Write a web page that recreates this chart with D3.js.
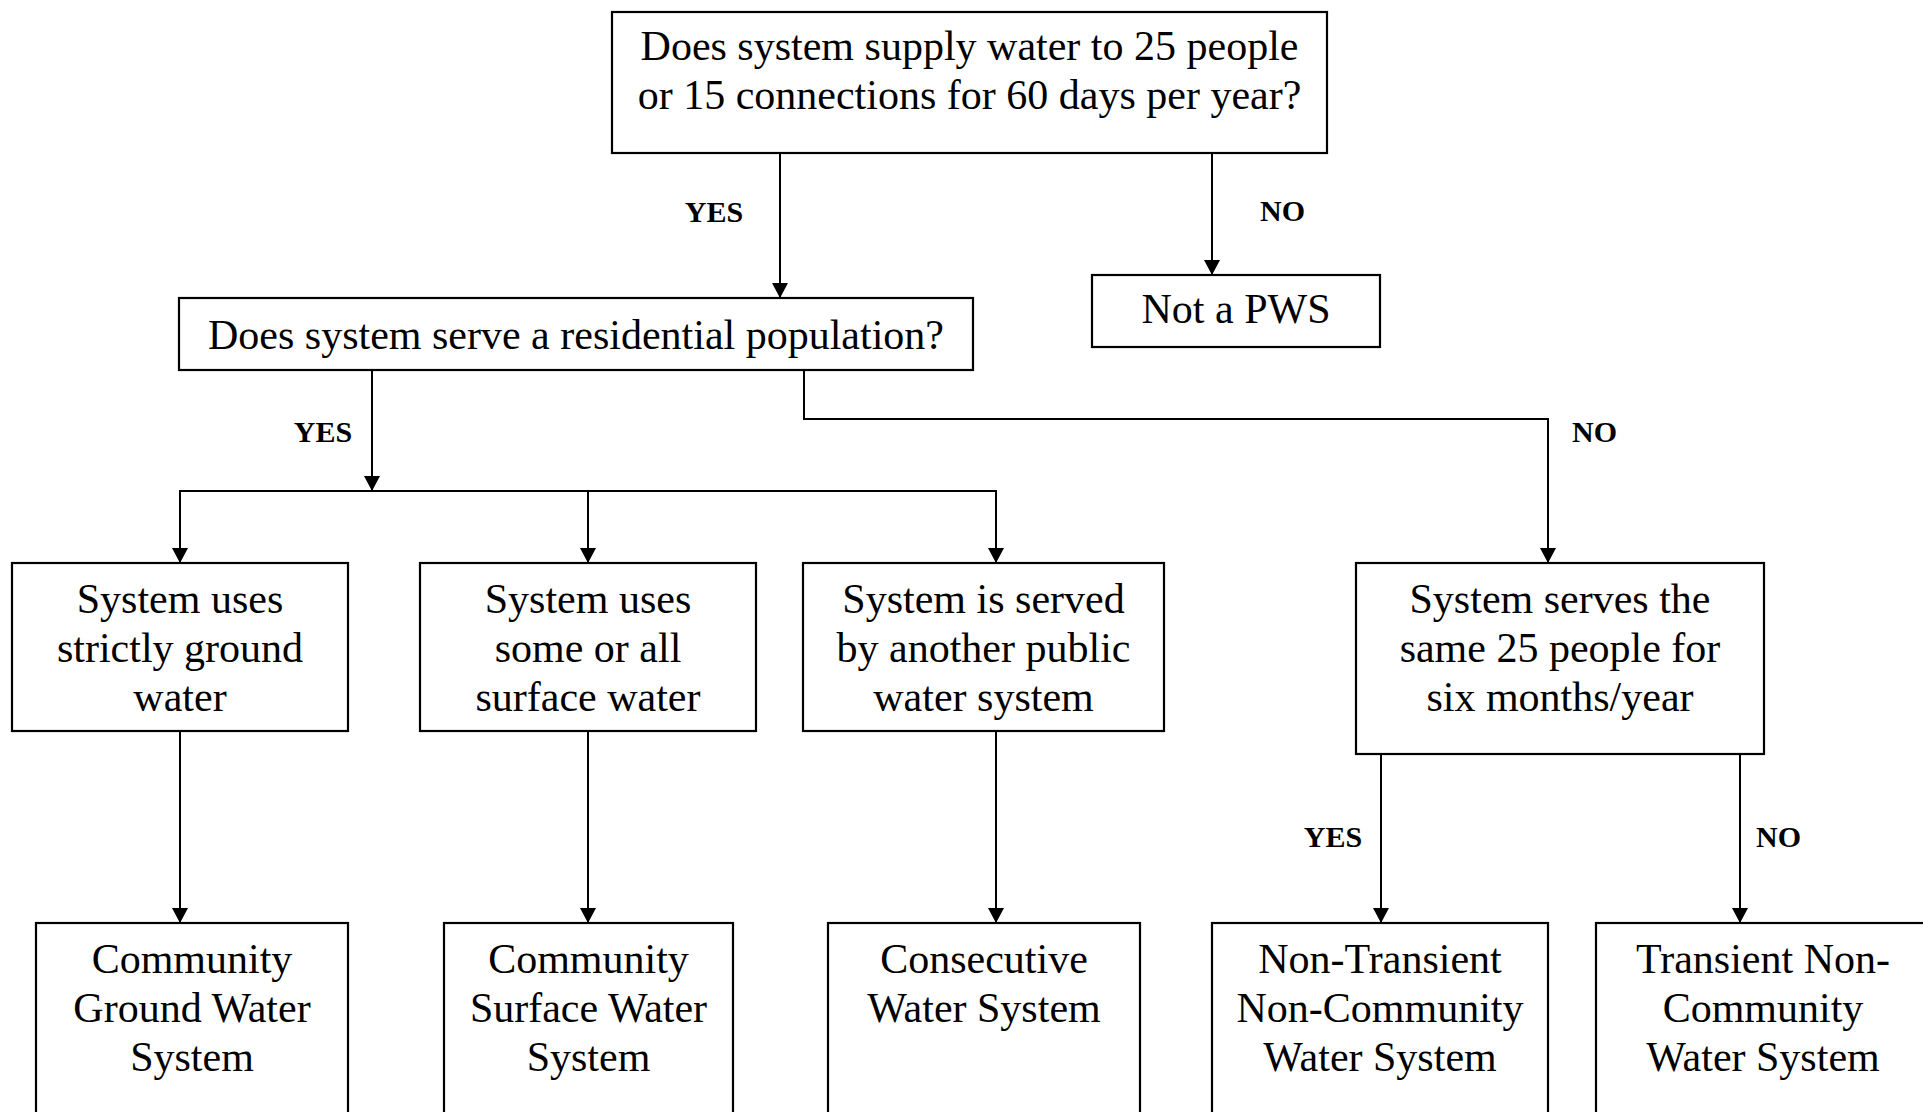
<!DOCTYPE html>
<html>
<head>
<meta charset="utf-8">
<script src="https://cdn.jsdelivr.net/npm/d3@7"></script>
<style>
  body { margin: 0; background: #fff; }
  svg { display: block; }
  .box { fill: #fff; stroke: #000; stroke-width: 2.2; }
  .link { fill: none; stroke: #000; stroke-width: 2; }
  .node text { font-family: "Liberation Serif", "Times New Roman", serif; font-size: 42px; fill: #000; }
  .lbl { font-family: "Liberation Serif", "Times New Roman", serif; font-size: 30px; font-weight: bold; fill: #000; }
</style>
</head>
<body>
<script>
// flowchart content
var nodeIds = ['q1', 'pws', 'q2', 'ground', 'surface', 'served', 'same',
               'cgws', 'csws', 'cons', 'ntnc', 'tnc'];
var nodeText = [
  ['Does system supply water to 25 people', 'or 15 connections for 60 days per year?'],
  ['Not a PWS'],
  ['Does system serve a residential population?'],
  ['System uses', 'strictly ground', 'water'],
  ['System uses', 'some or all', 'surface water'],
  ['System is served', 'by another public', 'water system'],
  ['System serves the', 'same 25 people for', 'six months/year'],
  ['Community', 'Ground Water', 'System'],
  ['Community', 'Surface Water', 'System'],
  ['Consecutive', 'Water System'],
  ['Non-Transient', 'Non-Community', 'Water System'],
  ['Transient Non-', 'Community', 'Water System']
];
var edgeFrom  = ['q1', 'q1',  'q2', 'q2', 'q2', 'q2', 'ground', 'surface', 'served', 'same', 'same'];
var edgeTo    = ['q2', 'pws', 'ground', 'surface', 'served', 'same', 'cgws', 'csws', 'cons', 'ntnc', 'tnc'];
var edgeLabel = ['YES', 'NO', 'YES', '', '', 'NO', '', '', '', 'YES', 'NO'];

var W = 1923, H = 1112;

// layout (pixel geometry of the drawing)
var box = {
  q1:      [612, 12, 1327, 153],
  pws:     [1092, 275, 1380, 347],
  q2:      [179, 298, 973, 370],
  ground:  [12, 563, 348, 731],
  surface: [420, 563, 756, 731],
  served:  [803, 563, 1164, 731],
  same:    [1356, 563, 1764, 754],
  cgws:    [36, 923, 348, 1135],
  csws:    [444, 923, 733, 1135],
  cons:    [828, 923, 1140, 1135],
  ntnc:    [1212, 923, 1548, 1135],
  tnc:     [1596, 923, 1930, 1135]
};
var firstBase = { q1: 60, pws: 323, q2: 349 };
var lineGap = 49;

var svg = d3.select('body').append('svg')
    .attr('width', W)
    .attr('height', H);

// routed edge paths: [points], label pos
var route = function(from, to) {
  var a = box[from], b = box[to];
  var key = from + '>' + to;
  var r = {
    'q1>q2':           { pts: [[780, a[3]], [780, b[1]]], lx: 714, ly: 222, anchor: 'middle' },
    'q1>pws':          { pts: [[1212, a[3]], [1212, b[1]]], lx: 1260, ly: 221, anchor: 'start' },
    'q2>ground':       { pts: [[372, a[3]], [372, 491], [180, 491], [180, b[1]]], lx: 323, ly: 442, anchor: 'middle', mid: [372, 491] },
    'q2>surface':      { pts: [[372, 491], [588, 491], [588, b[1]]] },
    'q2>served':       { pts: [[588, 491], [996, 491], [996, b[1]]] },
    'q2>same':         { pts: [[804, a[3]], [804, 419], [1548, 419], [1548, b[1]]], lx: 1572, ly: 442, anchor: 'start' },
    'ground>cgws':     { pts: [[180, a[3]], [180, b[1]]] },
    'surface>csws':    { pts: [[588, a[3]], [588, b[1]]] },
    'served>cons':     { pts: [[996, a[3]], [996, b[1]]] },
    'same>ntnc':       { pts: [[1381, a[3]], [1381, b[1]]], lx: 1333, ly: 847, anchor: 'middle' },
    'same>tnc':        { pts: [[1740, a[3]], [1740, b[1]]], lx: 1756, ly: 847, anchor: 'start' }
  };
  return r[key];
};

var edges = edgeFrom.map(function(f, i) {
  return { from: f, to: edgeTo[i], label: edgeLabel[i], r: route(f, edgeTo[i]) };
});

var line = d3.line();
var arrowAt = function(x, y) {
  return 'M' + x + ',' + y + 'L' + (x - 8) + ',' + (y - 15) + 'L' + (x + 8) + ',' + (y - 15) + 'Z';
};

var eg = svg.append('g').attr('class', 'edges');
eg.selectAll('path.link')
  .data(edges)
  .enter().append('path')
  .attr('class', 'link')
  .attr('d', function(d) { return line(d.r.pts); });

eg.selectAll('path.head')
  .data(edges)
  .enter().append('path')
  .attr('class', 'head')
  .attr('d', function(d) { var p = d.r.pts[d.r.pts.length - 1]; return arrowAt(p[0], p[1]); });

// arrow into the branching bar
eg.selectAll('path.midhead')
  .data(edges.filter(function(d) { return d.r.mid; }))
  .enter().append('path')
  .attr('d', function(d) { return arrowAt(d.r.mid[0], d.r.mid[1]); });

eg.selectAll('text.lbl')
  .data(edges.filter(function(d) { return d.label; }))
  .enter().append('text')
  .attr('class', 'lbl')
  .attr('x', function(d) { return d.r.lx; })
  .attr('y', function(d) { return d.r.ly; })
  .attr('text-anchor', function(d) { return d.r.anchor; })
  .text(function(d) { return d.label; });

// boxes
var nodes = nodeIds.map(function(id, i) { return { id: id, lines: nodeText[i] }; });
var ng = svg.selectAll('g.node')
  .data(nodes)
  .enter().append('g')
  .attr('class', 'node');

ng.append('rect')
  .attr('class', 'box')
  .attr('x', function(d) { return box[d.id][0]; })
  .attr('y', function(d) { return box[d.id][1]; })
  .attr('width', function(d) { return box[d.id][2] - box[d.id][0]; })
  .attr('height', function(d) { return box[d.id][3] - box[d.id][1]; });

ng.each(function(d) {
  var b = box[d.id];
  var cx = (b[0] + b[2]) / 2;
  var y0 = firstBase[d.id] || (b[1] + 50);
  d3.select(this).selectAll('text')
    .data(d.lines)
    .enter().append('text')
    .attr('x', cx)
    .attr('y', function(t, i) { return y0 + i * lineGap; })
    .attr('text-anchor', 'middle')
    .text(function(t) { return t; });
});
</script>
</body>
</html>
